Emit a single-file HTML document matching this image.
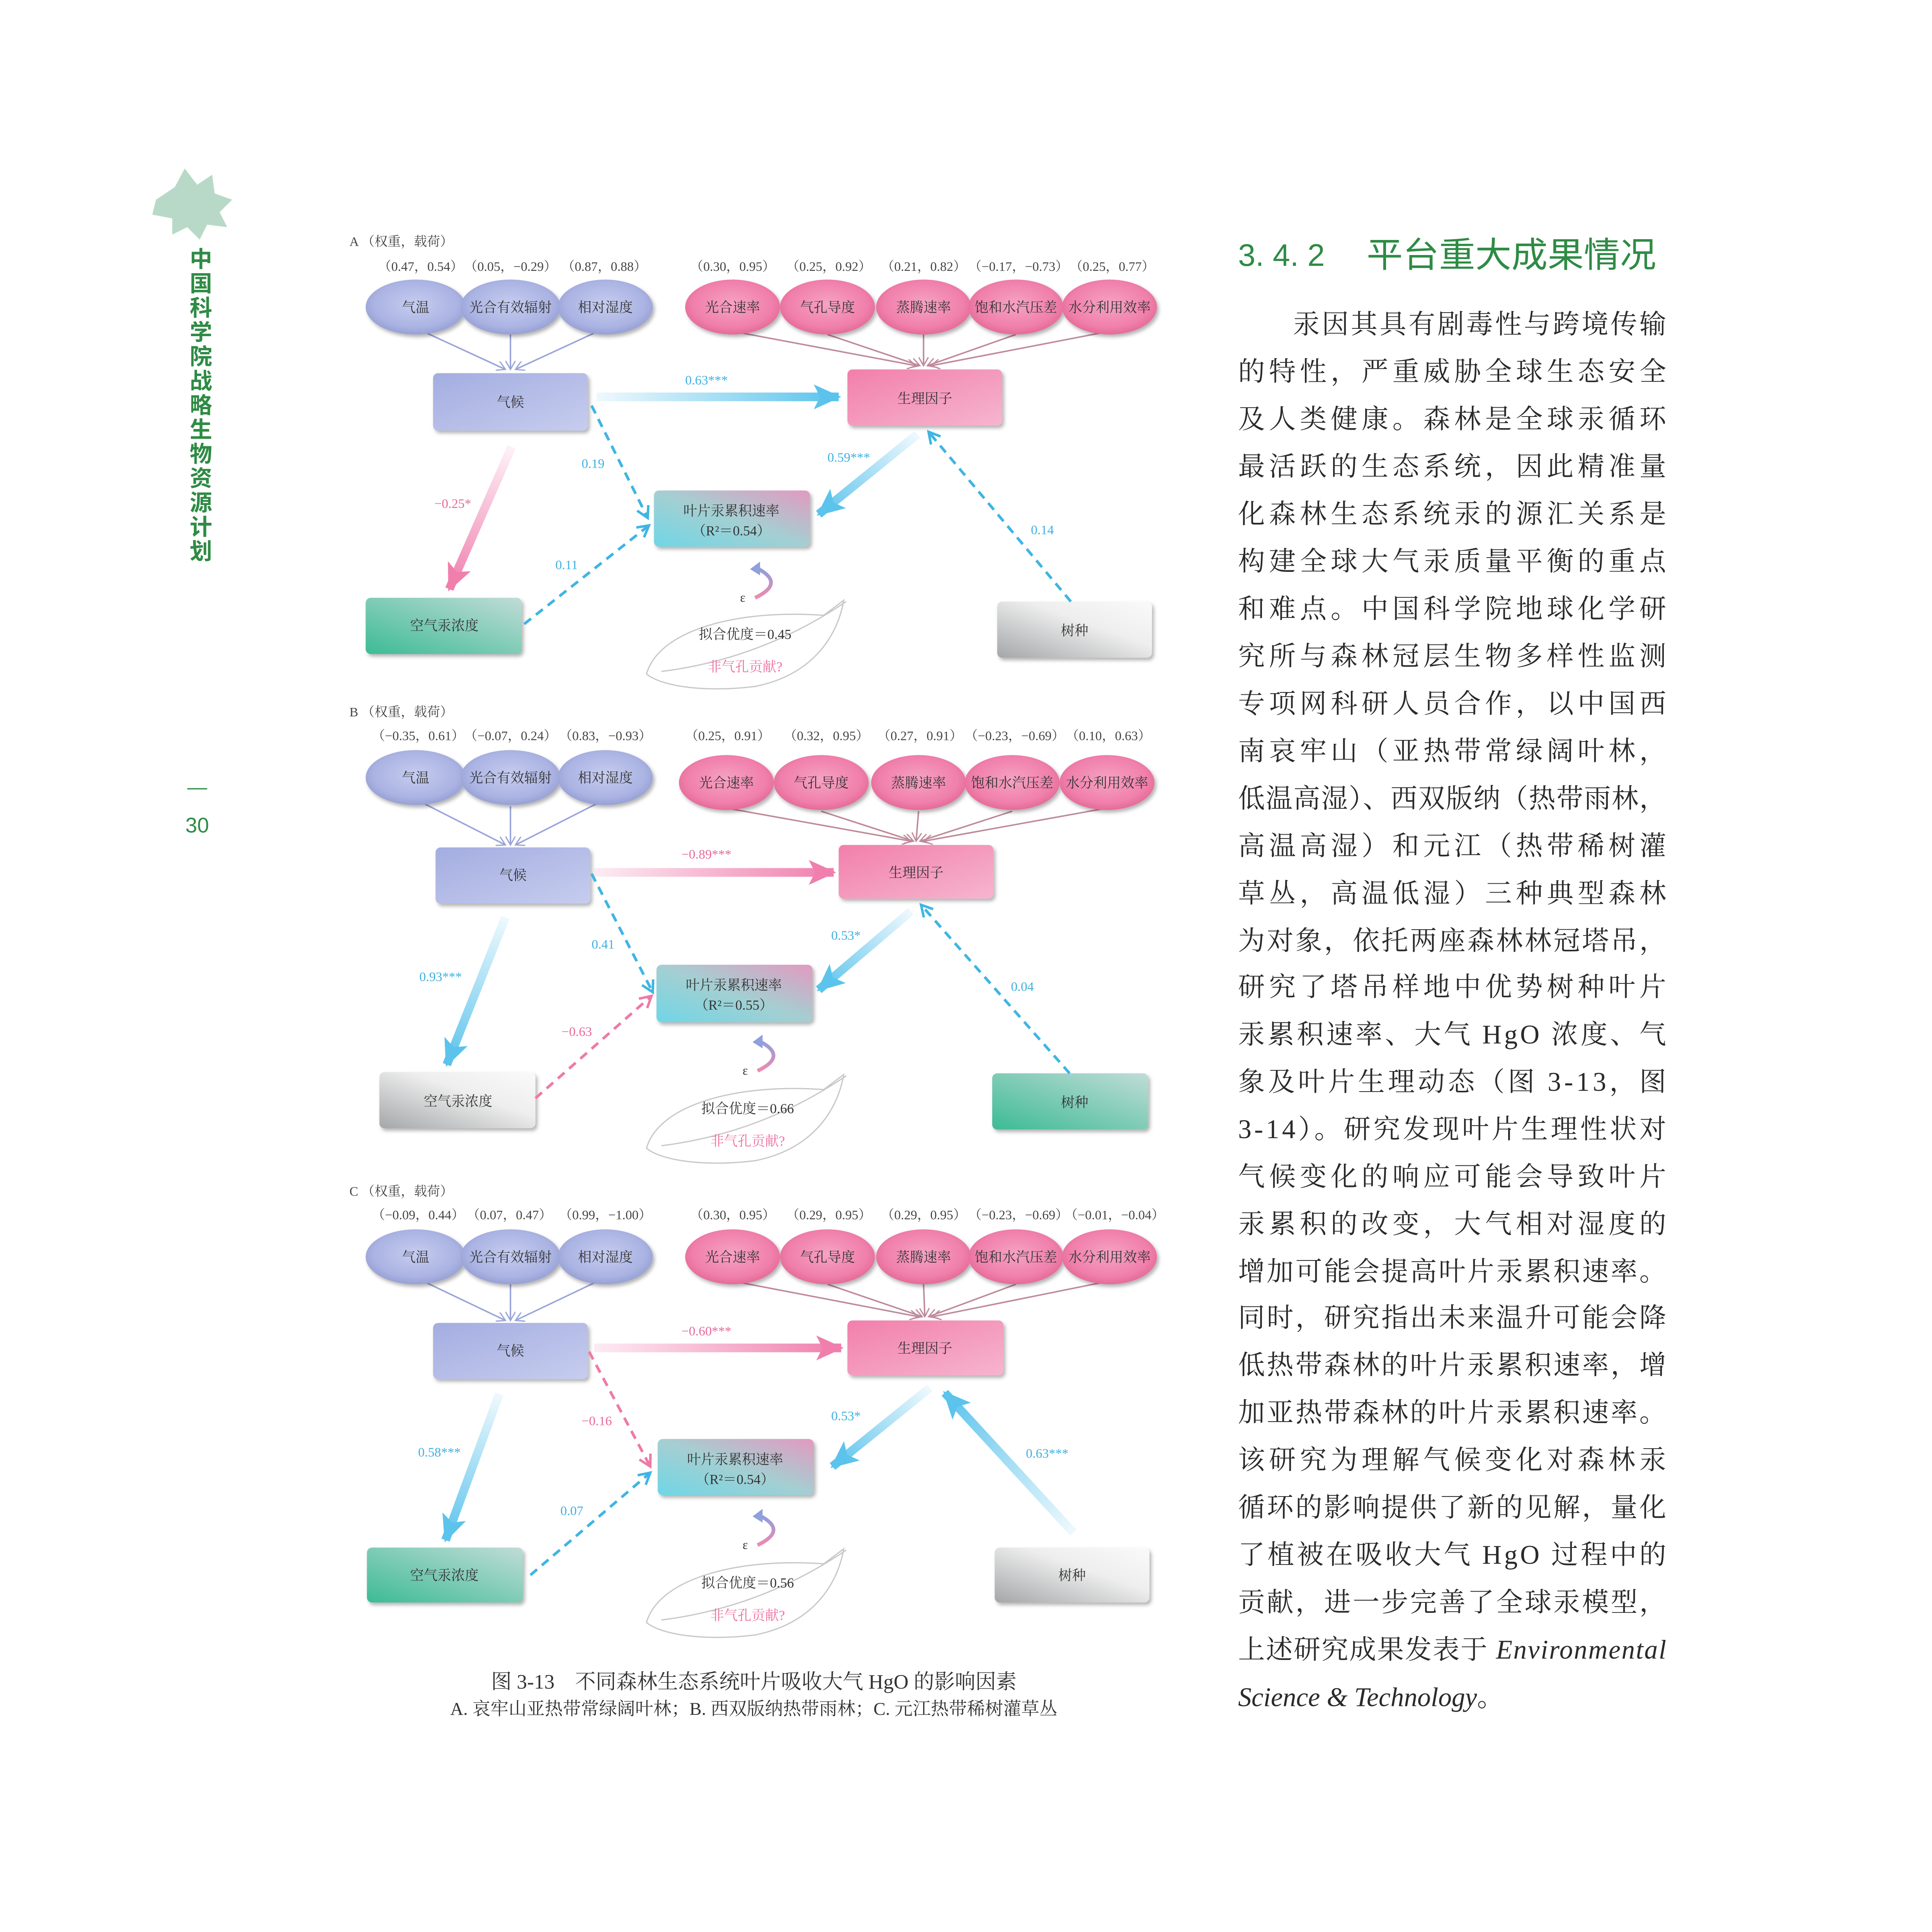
<!DOCTYPE html>
<html><head><meta charset="utf-8"><style>
html,body{margin:0;padding:0;background:#fff;overflow:hidden;width:100vw;height:100vh;}
svg{display:block;width:100vw;height:100vh;}
.d{font-family:"Liberation Serif","Noto Serif CJK SC",serif;}
.w{font-size:10.5px;fill:#444;}
.bx{font-size:11px;fill:#333;text-anchor:middle;}
.el{font-size:11px;fill:#333;text-anchor:middle;}
.lb{font-size:10.5px;fill:#3fb0e0;}
.lp{font-size:10.5px;fill:#e8689a;}
.body{font-family:"Liberation Serif","Noto Serif CJK SC",serif;font-size:21.5px;fill:#2a2a2a;}
</style></head><body>
<svg viewBox="0 0 1548 1548" preserveAspectRatio="xMidYMid meet" xmlns="http://www.w3.org/2000/svg">
<defs>
<radialGradient id="eb" cx="50%" cy="45%" r="60%"><stop offset="0" stop-color="#c6cdf0"/><stop offset="0.7" stop-color="#aab3e2"/><stop offset="1" stop-color="#8f99cf"/></radialGradient>
<radialGradient id="ep" cx="50%" cy="45%" r="60%"><stop offset="0" stop-color="#f6a3c3"/><stop offset="0.7" stop-color="#f07fab"/><stop offset="1" stop-color="#e0628f"/></radialGradient>
<linearGradient id="bb" x1="0" y1="0" x2="1" y2="1"><stop offset="0" stop-color="#a3ade0"/><stop offset="1" stop-color="#c7cdef"/></linearGradient>
<linearGradient id="bp" x1="0" y1="0" x2="1" y2="1"><stop offset="0" stop-color="#f27fab"/><stop offset="1" stop-color="#f6b5cf"/></linearGradient>
<linearGradient id="bl" x1="0" y1="1" x2="1" y2="0"><stop offset="0" stop-color="#6fd6e6"/><stop offset="0.5" stop-color="#a4cfd2"/><stop offset="1" stop-color="#e29ac0"/></linearGradient>
<linearGradient id="bt" x1="0" y1="1" x2="1" y2="0"><stop offset="0" stop-color="#3dbb95"/><stop offset="1" stop-color="#c0dcd6"/></linearGradient>
<linearGradient id="bg" x1="0" y1="1" x2="1" y2="0"><stop offset="0" stop-color="#a4a6a8"/><stop offset="0.6" stop-color="#eeeeee"/><stop offset="1" stop-color="#fafafa"/></linearGradient>
<filter id="sh" x="-10%" y="-10%" width="130%" height="140%"><feDropShadow dx="1.5" dy="2" stdDeviation="1.5" flood-color="#000" flood-opacity="0.3"/></filter>
<marker id="hb" markerUnits="userSpaceOnUse" markerWidth="24" markerHeight="20" refX="20" refY="10" orient="auto"><path d="M0,0 L22,10 L0,20 L5,10 z" fill="#5bc3ec"/></marker>
<marker id="hp" markerUnits="userSpaceOnUse" markerWidth="24" markerHeight="20" refX="20" refY="10" orient="auto"><path d="M0,0 L22,10 L0,20 L5,10 z" fill="#f07fae"/></marker>
<marker id="cb" markerUnits="userSpaceOnUse" markerWidth="12" markerHeight="12" refX="10" refY="6" orient="auto"><path d="M1,1 L10,6 L1,11" fill="none" stroke="#3fb5e3" stroke-width="2"/></marker>
<marker id="cp" markerUnits="userSpaceOnUse" markerWidth="12" markerHeight="12" refX="10" refY="6" orient="auto"><path d="M1,1 L10,6 L1,11" fill="none" stroke="#ee7aa8" stroke-width="2"/></marker>
<marker id="tb" markerUnits="userSpaceOnUse" markerWidth="8" markerHeight="8" refX="7" refY="4" orient="auto"><path d="M0,0 L7,4 L0,8" fill="none" stroke="#9aa4da" stroke-width="1"/></marker>
<marker id="tp" markerUnits="userSpaceOnUse" markerWidth="8" markerHeight="8" refX="7" refY="4" orient="auto"><path d="M0,0 L7,4 L0,8" fill="none" stroke="#c08a9c" stroke-width="1"/></marker>
<linearGradient id="a1" gradientUnits="userSpaceOnUse" x1="478" y1="318" x2="672" y2="318"><stop offset="0" stop-color="#5bc3ec" stop-opacity="0.1"/><stop offset="1" stop-color="#5bc3ec"/></linearGradient>
<linearGradient id="a2" gradientUnits="userSpaceOnUse" x1="410" y1="358" x2="360" y2="472"><stop offset="0" stop-color="#f07fae" stop-opacity="0.1"/><stop offset="1" stop-color="#f07fae"/></linearGradient>
<linearGradient id="a3" gradientUnits="userSpaceOnUse" x1="735" y1="348" x2="656" y2="412"><stop offset="0" stop-color="#5bc3ec" stop-opacity="0.1"/><stop offset="1" stop-color="#5bc3ec"/></linearGradient>
<linearGradient id="b1" gradientUnits="userSpaceOnUse" x1="476" y1="699" x2="668" y2="699"><stop offset="0" stop-color="#f07fae" stop-opacity="0.15"/><stop offset="1" stop-color="#f07fae"/></linearGradient>
<linearGradient id="b2" gradientUnits="userSpaceOnUse" x1="405" y1="735" x2="358" y2="853"><stop offset="0" stop-color="#5bc3ec" stop-opacity="0.1"/><stop offset="1" stop-color="#5bc3ec"/></linearGradient>
<linearGradient id="b3" gradientUnits="userSpaceOnUse" x1="730" y1="730" x2="656" y2="793"><stop offset="0" stop-color="#5bc3ec" stop-opacity="0.1"/><stop offset="1" stop-color="#5bc3ec"/></linearGradient>
<linearGradient id="c1" gradientUnits="userSpaceOnUse" x1="476" y1="1080" x2="674" y2="1080"><stop offset="0" stop-color="#f07fae" stop-opacity="0.15"/><stop offset="1" stop-color="#f07fae"/></linearGradient>
<linearGradient id="c2" gradientUnits="userSpaceOnUse" x1="400" y1="1117" x2="357" y2="1234"><stop offset="0" stop-color="#5bc3ec" stop-opacity="0.1"/><stop offset="1" stop-color="#5bc3ec"/></linearGradient>
<linearGradient id="c3" gradientUnits="userSpaceOnUse" x1="745" y1="1112" x2="667" y2="1175"><stop offset="0" stop-color="#5bc3ec" stop-opacity="0.1"/><stop offset="1" stop-color="#5bc3ec"/></linearGradient>
<linearGradient id="c4" gradientUnits="userSpaceOnUse" x1="860" y1="1228" x2="757" y2="1116"><stop offset="0" stop-color="#5bc3ec" stop-opacity="0.1"/><stop offset="1" stop-color="#5bc3ec"/></linearGradient>
<linearGradient id="eps" x1="0" y1="0" x2="0" y2="1"><stop offset="0" stop-color="#8fa0dc"/><stop offset="1" stop-color="#ee8ab0"/></linearGradient>
</defs>

<!-- sidebar -->
<g opacity="0.55">
<path d="M125,160 L140,150 L148,135 L158,148 L170,140 L172,155 L186,160 L176,170 L182,182 L166,180 L160,192 L150,182 L138,188 L138,175 L122,172 Z" fill="#7fb99a"/>
</g>
<text x="161" y="200" font-family="'Liberation Sans','Noto Sans CJK SC',sans-serif" font-size="18" font-weight="bold" fill="#2e8b44" text-anchor="middle">
<tspan x="161" dy="14">中</tspan><tspan x="161" dy="19.5">国</tspan><tspan x="161" dy="19.5">科</tspan><tspan x="161" dy="19.5">学</tspan><tspan x="161" dy="19.5">院</tspan><tspan x="161" dy="19.5">战</tspan><tspan x="161" dy="19.5">略</tspan><tspan x="161" dy="19.5">生</tspan><tspan x="161" dy="19.5">物</tspan><tspan x="161" dy="19.5">资</tspan><tspan x="161" dy="19.5">源</tspan><tspan x="161" dy="19.5">计</tspan><tspan x="161" dy="19.5">划</tspan></text>
<line x1="150" y1="632" x2="166" y2="632" stroke="#2e8b44" stroke-width="1"/>
<text x="158" y="667" font-family="'Liberation Sans',sans-serif" font-size="17" fill="#2e8b44" text-anchor="middle">30</text>

<!-- ================= PANEL A ================= -->
<g class="d">
<text x="280" y="197" class="w">A （权重，载荷）</text>
<text y="217" class="w"><tspan x="303">（0.47，0.54）</tspan><tspan x="372">（0.05，−0.29）</tspan><tspan x="450">（0.87，0.88）</tspan><tspan x="553">（0.30，0.95）</tspan><tspan x="630">（0.25，0.92）</tspan><tspan x="706">（0.21，0.82）</tspan><tspan x="776">（−0.17，−0.73）</tspan><tspan x="857">（0.25，0.77）</tspan></text>
<g stroke="#9aa4da" stroke-width="1.2" marker-end="url(#tb)"><line x1="340" y1="266" x2="405" y2="296"/><line x1="409" y1="268" x2="409" y2="296"/><line x1="478" y1="266" x2="413" y2="296"/></g>
<g stroke="#c08a9c" stroke-width="1.2" marker-end="url(#tp)"><line x1="590" y1="266" x2="734" y2="293"/><line x1="663" y1="268" x2="737" y2="293"/><line x1="740" y1="268" x2="740" y2="293"/><line x1="814" y1="268" x2="743" y2="293"/><line x1="886" y1="266" x2="746" y2="293"/></g>
<g filter="url(#sh)"><ellipse cx="333" cy="246" rx="40" ry="22" fill="url(#eb)"/><ellipse cx="409" cy="246" rx="40" ry="22" fill="url(#eb)"/><ellipse cx="485" cy="246" rx="38" ry="22" fill="url(#eb)"/>
<ellipse cx="587" cy="246" rx="38" ry="22" fill="url(#ep)"/><ellipse cx="663" cy="246" rx="38" ry="22" fill="url(#ep)"/><ellipse cx="740" cy="246" rx="38" ry="22" fill="url(#ep)"/><ellipse cx="814" cy="246" rx="38" ry="22" fill="url(#ep)"/><ellipse cx="889" cy="246" rx="38" ry="22" fill="url(#ep)"/></g>
<text y="250" class="el"><tspan x="333">气温</tspan><tspan x="409">光合有效辐射</tspan><tspan x="485">相对湿度</tspan><tspan x="587">光合速率</tspan><tspan x="663">气孔导度</tspan><tspan x="740">蒸腾速率</tspan><tspan x="814">饱和水汽压差</tspan><tspan x="889">水分利用效率</tspan></text>
<g filter="url(#sh)"><rect x="347" y="299" width="124" height="46" rx="4" fill="url(#bb)"/><rect x="679" y="296" width="124" height="45" rx="4" fill="url(#bp)"/><rect x="524" y="393" width="125" height="45" rx="4" fill="url(#bl)"/><rect x="293" y="479" width="125" height="45" rx="4" fill="url(#bt)"/><rect x="799" y="482" width="124" height="45" rx="4" fill="url(#bg)"/></g>
<text class="bx"><tspan x="409" y="326">气候</tspan><tspan x="741" y="323">生理因子</tspan><tspan x="586" y="413">叶片汞累积速率</tspan><tspan x="586" y="429">（R²＝0.54）</tspan><tspan x="356" y="505">空气汞浓度</tspan><tspan x="861" y="509">树种</tspan></text>
<line x1="478" y1="318" x2="672" y2="318" stroke="url(#a1)" stroke-width="7" marker-end="url(#hb)"/>
<line x1="410" y1="358" x2="360" y2="472" stroke="url(#a2)" stroke-width="7" marker-end="url(#hp)"/>
<line x1="735" y1="348" x2="656" y2="412" stroke="url(#a3)" stroke-width="7" marker-end="url(#hb)"/>
<g fill="none" stroke="#3fb5e3" stroke-width="2.2" stroke-dasharray="7 5"><line x1="474" y1="325" x2="519" y2="415" marker-end="url(#cb)"/><line x1="420" y1="500" x2="520" y2="421" marker-end="url(#cb)"/><line x1="858" y1="482" x2="744" y2="346" marker-end="url(#cb)"/></g>
<text class="lb" x="549" y="308">0.63***</text><text class="lb" x="466" y="375">0.19</text><text class="lp" x="348" y="407">−0.25*</text><text class="lb" x="445" y="456">0.11</text><text class="lb" x="663" y="370">0.59***</text><text class="lb" x="826" y="428">0.14</text>
<path d="M605,479 Q630,467 606,455" fill="none" stroke="url(#eps)" stroke-width="3"/><path d="M601,456 L609,450 L609,461 Z" fill="#8fa0dc"/>
<text x="593" y="482" font-size="10" fill="#333">ε</text>
<path d="M518,540 C528,505 590,488 660,493 L676,481 C672,505 655,540 605,550 C565,555 530,550 518,540 Z M530,538 Q610,528 678,482" fill="none" stroke="#c8c8c8" stroke-width="1"/>
<text x="597" y="512" font-size="11" fill="#333" text-anchor="middle">拟合优度＝0.45</text>
<text x="597" y="538" font-size="11" fill="#ee6fa0" text-anchor="middle">非气孔贡献?</text>
</g>

<!-- ================= PANEL B ================= -->
<g class="d">
<text x="280" y="574" class="w">B （权重，载荷）</text>
<text y="593" class="w"><tspan x="298">（−0.35，0.61）</tspan><tspan x="372">（−0.07，0.24）</tspan><tspan x="448">（0.83，−0.93）</tspan><tspan x="549">（0.25，0.91）</tspan><tspan x="628">（0.32，0.95）</tspan><tspan x="703">（0.27，0.91）</tspan><tspan x="773">（−0.23，−0.69）</tspan><tspan x="854">（0.10，0.63）</tspan></text>
<g stroke="#9aa4da" stroke-width="1.2" marker-end="url(#tb)"><line x1="340" y1="644" x2="405" y2="677"/><line x1="409" y1="646" x2="409" y2="677"/><line x1="478" y1="644" x2="413" y2="677"/></g>
<g stroke="#c08a9c" stroke-width="1.2" marker-end="url(#tp)"><line x1="585" y1="648" x2="730" y2="674"/><line x1="658" y1="650" x2="732" y2="674"/><line x1="736" y1="650" x2="734" y2="674"/><line x1="811" y1="650" x2="737" y2="674"/><line x1="884" y1="648" x2="740" y2="674"/></g>
<g filter="url(#sh)"><ellipse cx="333" cy="623" rx="40" ry="22" fill="url(#eb)"/><ellipse cx="409" cy="623" rx="40" ry="22" fill="url(#eb)"/><ellipse cx="485" cy="623" rx="38" ry="22" fill="url(#eb)"/>
<ellipse cx="582" cy="627" rx="38" ry="22" fill="url(#ep)"/><ellipse cx="658" cy="627" rx="38" ry="22" fill="url(#ep)"/><ellipse cx="736" cy="627" rx="38" ry="22" fill="url(#ep)"/><ellipse cx="811" cy="627" rx="38" ry="22" fill="url(#ep)"/><ellipse cx="887" cy="627" rx="38" ry="22" fill="url(#ep)"/></g>
<text class="el"><tspan x="333" y="627">气温</tspan><tspan x="409" y="627">光合有效辐射</tspan><tspan x="485" y="627">相对湿度</tspan><tspan x="582" y="631">光合速率</tspan><tspan x="658" y="631">气孔导度</tspan><tspan x="736" y="631">蒸腾速率</tspan><tspan x="811" y="631">饱和水汽压差</tspan><tspan x="887" y="631">水分利用效率</tspan></text>
<g filter="url(#sh)"><rect x="349" y="679" width="124" height="45" rx="4" fill="url(#bb)"/><rect x="672" y="677" width="124" height="43" rx="4" fill="url(#bp)"/><rect x="526" y="773" width="125" height="46" rx="4" fill="url(#bl)"/><rect x="304" y="859" width="125" height="45" rx="4" fill="url(#bg)"/><rect x="795" y="860" width="125" height="45" rx="4" fill="url(#bt)"/></g>
<text class="bx"><tspan x="411" y="705">气候</tspan><tspan x="734" y="703">生理因子</tspan><tspan x="588" y="793">叶片汞累积速率</tspan><tspan x="588" y="809">（R²＝0.55）</tspan><tspan x="367" y="886">空气汞浓度</tspan><tspan x="861" y="887">树种</tspan></text>
<line x1="476" y1="699" x2="668" y2="699" stroke="url(#b1)" stroke-width="7" marker-end="url(#hp)"/>
<line x1="405" y1="735" x2="358" y2="853" stroke="url(#b2)" stroke-width="7" marker-end="url(#hb)"/>
<line x1="730" y1="730" x2="656" y2="793" stroke="url(#b3)" stroke-width="7" marker-end="url(#hb)"/>
<g fill="none" stroke-width="2.2" stroke-dasharray="7 5"><line x1="474" y1="700" x2="523" y2="795" stroke="#3fb5e3" marker-end="url(#cb)"/><line x1="429" y1="880" x2="522" y2="798" stroke="#ee7aa8" marker-end="url(#cp)"/><line x1="857" y1="860" x2="738" y2="725" stroke="#3fb5e3" marker-end="url(#cb)"/></g>
<text class="lp" x="546" y="688">−0.89***</text><text class="lb" x="474" y="760">0.41</text><text class="lb" x="336" y="786">0.93***</text><text class="lp" x="450" y="830">−0.63</text><text class="lb" x="666" y="753">0.53*</text><text class="lb" x="810" y="794">0.04</text>
<path d="M607,858 Q632,846 608,834" fill="none" stroke="url(#eps)" stroke-width="3"/><path d="M603,835 L611,829 L611,840 Z" fill="#8fa0dc"/>
<text x="595" y="861" font-size="10" fill="#333">ε</text>
<path d="M518,920 C528,885 590,868 660,873 L676,861 C672,885 655,920 605,930 C565,935 530,930 518,920 Z M530,918 Q610,908 678,862" fill="none" stroke="#c8c8c8" stroke-width="1"/>
<text x="599" y="892" font-size="11" fill="#333" text-anchor="middle">拟合优度＝0.66</text>
<text x="599" y="918" font-size="11" fill="#ee6fa0" text-anchor="middle">非气孔贡献?</text>
</g>

<!-- ================= PANEL C ================= -->
<g class="d">
<text x="280" y="958" class="w">C （权重，载荷）</text>
<text y="977" class="w"><tspan x="298">（−0.09，0.44）</tspan><tspan x="374">（0.07，0.47）</tspan><tspan x="448">（0.99，−1.00）</tspan><tspan x="553">（0.30，0.95）</tspan><tspan x="630">（0.29，0.95）</tspan><tspan x="706">（0.29，0.95）</tspan><tspan x="776">（−0.23，−0.69）</tspan><tspan x="853">（−0.01，−0.04）</tspan></text>
<g stroke="#9aa4da" stroke-width="1.2" marker-end="url(#tb)"><line x1="340" y1="1027" x2="405" y2="1058"/><line x1="409" y1="1029" x2="409" y2="1058"/><line x1="478" y1="1027" x2="413" y2="1058"/></g>
<g stroke="#c08a9c" stroke-width="1.2" marker-end="url(#tp)"><line x1="590" y1="1027" x2="736" y2="1055"/><line x1="663" y1="1029" x2="739" y2="1055"/><line x1="740" y1="1029" x2="741" y2="1055"/><line x1="814" y1="1029" x2="744" y2="1055"/><line x1="886" y1="1027" x2="747" y2="1055"/></g>
<g filter="url(#sh)"><ellipse cx="333" cy="1007" rx="40" ry="22" fill="url(#eb)"/><ellipse cx="409" cy="1007" rx="40" ry="22" fill="url(#eb)"/><ellipse cx="485" cy="1007" rx="38" ry="22" fill="url(#eb)"/>
<ellipse cx="587" cy="1007" rx="38" ry="22" fill="url(#ep)"/><ellipse cx="663" cy="1007" rx="38" ry="22" fill="url(#ep)"/><ellipse cx="740" cy="1007" rx="38" ry="22" fill="url(#ep)"/><ellipse cx="814" cy="1007" rx="38" ry="22" fill="url(#ep)"/><ellipse cx="889" cy="1007" rx="38" ry="22" fill="url(#ep)"/></g>
<text y="1011" class="el"><tspan x="333">气温</tspan><tspan x="409">光合有效辐射</tspan><tspan x="485">相对湿度</tspan><tspan x="587">光合速率</tspan><tspan x="663">气孔导度</tspan><tspan x="740">蒸腾速率</tspan><tspan x="814">饱和水汽压差</tspan><tspan x="889">水分利用效率</tspan></text>
<g filter="url(#sh)"><rect x="347" y="1060" width="124" height="45" rx="4" fill="url(#bb)"/><rect x="679" y="1058" width="125" height="44" rx="4" fill="url(#bp)"/><rect x="527" y="1153" width="125" height="45" rx="4" fill="url(#bl)"/><rect x="294" y="1240" width="125" height="44" rx="4" fill="url(#bt)"/><rect x="797" y="1240" width="124" height="44" rx="4" fill="url(#bg)"/></g>
<text class="bx"><tspan x="409" y="1086">气候</tspan><tspan x="741" y="1084">生理因子</tspan><tspan x="589" y="1173">叶片汞累积速率</tspan><tspan x="589" y="1189">（R²＝0.54）</tspan><tspan x="356" y="1266">空气汞浓度</tspan><tspan x="859" y="1266">树种</tspan></text>
<line x1="476" y1="1080" x2="674" y2="1080" stroke="url(#c1)" stroke-width="7" marker-end="url(#hp)"/>
<line x1="400" y1="1117" x2="357" y2="1234" stroke="url(#c2)" stroke-width="7" marker-end="url(#hb)"/>
<line x1="745" y1="1112" x2="667" y2="1175" stroke="url(#c3)" stroke-width="7" marker-end="url(#hb)"/>
<line x1="860" y1="1228" x2="757" y2="1116" stroke="url(#c4)" stroke-width="7" marker-end="url(#hb)"/>
<g fill="none" stroke-width="2.2" stroke-dasharray="7 5"><line x1="472" y1="1083" x2="521" y2="1175" stroke="#ee7aa8" marker-end="url(#cp)"/><line x1="425" y1="1262" x2="521" y2="1180" stroke="#3fb5e3" marker-end="url(#cb)"/></g>
<text class="lp" x="546" y="1070">−0.60***</text><text class="lp" x="466" y="1142">−0.16</text><text class="lb" x="335" y="1167">0.58***</text><text class="lb" x="449" y="1214">0.07</text><text class="lb" x="666" y="1138">0.53*</text><text class="lb" x="822" y="1168">0.63***</text>
<path d="M607,1238 Q632,1226 608,1214" fill="none" stroke="url(#eps)" stroke-width="3"/><path d="M603,1215 L611,1209 L611,1220 Z" fill="#8fa0dc"/>
<text x="595" y="1241" font-size="10" fill="#333">ε</text>
<path d="M518,1300 C528,1265 590,1248 660,1253 L676,1241 C672,1265 655,1300 605,1310 C565,1315 530,1310 518,1300 Z M530,1298 Q610,1288 678,1242" fill="none" stroke="#c8c8c8" stroke-width="1"/>
<text x="599" y="1272" font-size="11" fill="#333" text-anchor="middle">拟合优度＝0.56</text>
<text x="599" y="1298" font-size="11" fill="#ee6fa0" text-anchor="middle">非气孔贡献?</text>
</g>

<!-- caption -->
<text x="604" y="1353" font-family="'Liberation Serif','Noto Serif CJK SC',serif" font-size="16.5" fill="#333" text-anchor="middle">图 3-13　不同森林生态系统叶片吸收大气 HgO 的影响因素</text>
<text x="604" y="1374" font-family="'Liberation Serif','Noto Serif CJK SC',serif" font-size="14.5" fill="#333" text-anchor="middle">A. 哀牢山亚热带常绿阔叶林；B. 西双版纳热带雨林；C. 元江热带稀树灌草丛</text>

<!-- heading -->
<text x="992" y="213" font-family="'Liberation Sans',sans-serif" font-size="25" fill="#2e8b44">3. 4. 2</text>
<text x="1095" y="214" font-family="'Liberation Sans','Noto Sans CJK SC',sans-serif" font-size="28" fill="#2e8b44" textLength="232" lengthAdjust="spacingAndGlyphs">平台重大成果情况</text>

<!-- body -->
<g class="body">
<text x="1036" y="267" textLength="299" lengthAdjust="spacing">汞因其具有剧毒性与跨境传输</text>
<text x="992" y="305" textLength="343" lengthAdjust="spacing">的特性，严重威胁全球生态安全</text>
<text x="992" y="343" textLength="343" lengthAdjust="spacing">及人类健康。森林是全球汞循环</text>
<text x="992" y="381" textLength="343" lengthAdjust="spacing">最活跃的生态系统，因此精准量</text>
<text x="992" y="419" textLength="343" lengthAdjust="spacing">化森林生态系统汞的源汇关系是</text>
<text x="992" y="457" textLength="343" lengthAdjust="spacing">构建全球大气汞质量平衡的重点</text>
<text x="992" y="495" textLength="343" lengthAdjust="spacing">和难点。中国科学院地球化学研</text>
<text x="992" y="533" textLength="343" lengthAdjust="spacing">究所与森林冠层生物多样性监测</text>
<text x="992" y="571" textLength="343" lengthAdjust="spacing">专项网科研人员合作，以中国西</text>
<text x="992" y="609" textLength="343" lengthAdjust="spacing">南哀牢山（亚热带常绿阔叶林，</text>
<text x="992" y="647" textLength="343" lengthAdjust="spacing">低温高湿）、西双版纳（热带雨林，</text>
<text x="992" y="685" textLength="343" lengthAdjust="spacing">高温高湿）和元江（热带稀树灌</text>
<text x="992" y="723" textLength="343" lengthAdjust="spacing">草丛，高温低湿）三种典型森林</text>
<text x="992" y="761" textLength="343" lengthAdjust="spacing">为对象，依托两座森林林冠塔吊，</text>
<text x="992" y="798" textLength="343" lengthAdjust="spacing">研究了塔吊样地中优势树种叶片</text>
<text x="992" y="836" textLength="343" lengthAdjust="spacing">汞累积速率、大气 HgO 浓度、气</text>
<text x="992" y="874" textLength="343" lengthAdjust="spacing">象及叶片生理动态（图 3-13，图</text>
<text x="992" y="912" textLength="343" lengthAdjust="spacing">3-14）。研究发现叶片生理性状对</text>
<text x="992" y="950" textLength="343" lengthAdjust="spacing">气候变化的响应可能会导致叶片</text>
<text x="992" y="988" textLength="343" lengthAdjust="spacing">汞累积的改变，大气相对湿度的</text>
<text x="992" y="1026" textLength="343" lengthAdjust="spacing">增加可能会提高叶片汞累积速率。</text>
<text x="992" y="1063" textLength="343" lengthAdjust="spacing">同时，研究指出未来温升可能会降</text>
<text x="992" y="1101" textLength="343" lengthAdjust="spacing">低热带森林的叶片汞累积速率，增</text>
<text x="992" y="1139" textLength="343" lengthAdjust="spacing">加亚热带森林的叶片汞累积速率。</text>
<text x="992" y="1177" textLength="343" lengthAdjust="spacing">该研究为理解气候变化对森林汞</text>
<text x="992" y="1215" textLength="343" lengthAdjust="spacing">循环的影响提供了新的见解，量化</text>
<text x="992" y="1253" textLength="343" lengthAdjust="spacing">了植被在吸收大气 HgO 过程中的</text>
<text x="992" y="1291" textLength="343" lengthAdjust="spacing">贡献，进一步完善了全球汞模型，</text>
<text x="992" y="1329" textLength="343" lengthAdjust="spacing">上述研究成果发表于 <tspan font-style="italic">Environmental</tspan></text>
<text x="992" y="1367"><tspan font-style="italic">Science &amp; Technology</tspan>。</text>
</g>
</svg>
</body></html>
